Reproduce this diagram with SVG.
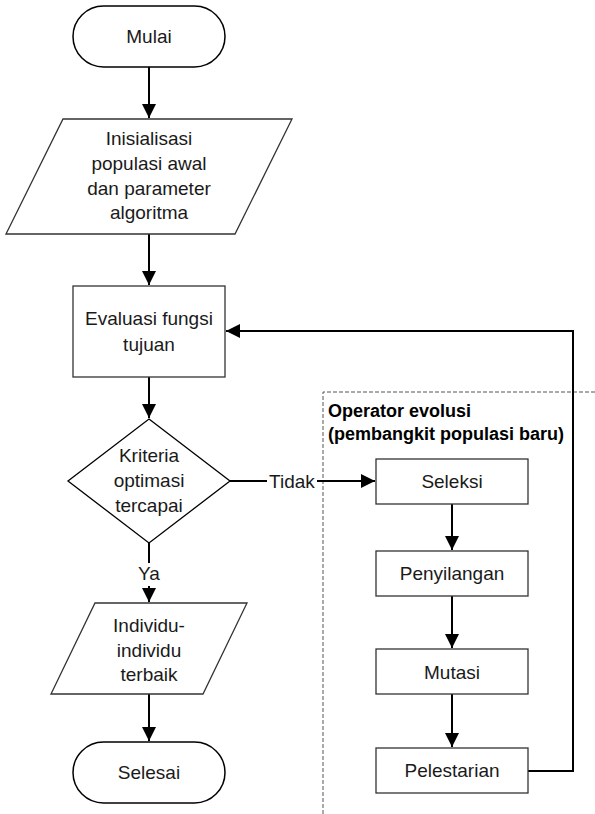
<svg xmlns="http://www.w3.org/2000/svg" width="595" height="814" viewBox="0 0 595 814">
<style>
.t{font-family:"Liberation Sans",Arial,sans-serif;font-size:19px;fill:#1a1a1a;text-anchor:middle}
.b{font-family:"Liberation Sans",Arial,sans-serif;font-size:18px;font-weight:bold;fill:#000}
.box{fill:#fff;stroke:#333;stroke-width:1.3}
.term{fill:#fff;stroke:#000;stroke-width:1.5}
.ln{fill:none;stroke:#000;stroke-width:2}
.dash{fill:none;stroke:#555;stroke-width:1;stroke-dasharray:4,2}
</style>
<defs>
<marker id="ah" viewBox="0 0 10 10" refX="10" refY="5" markerWidth="7" markerHeight="7" orient="auto" markerUnits="strokeWidth">
<path d="M0,0 L10,5 L0,10 z" fill="#000"/>
</marker>
</defs>
<rect width="595" height="814" fill="#fff"/>
<g id="group-operator">
<path class="dash" d="M323,814 V392 H595"/>
<text class="b" x="328" y="417">Operator evolusi</text>
<text class="b" x="328" y="440">(pembangkit populasi baru)</text>
</g>
<g id="connectors">
<path class="ln" d="M149,67 V118" marker-end="url(#ah)"/>
<path class="ln" d="M149,234 V285" marker-end="url(#ah)"/>
<path class="ln" d="M149,377 V418" marker-end="url(#ah)"/>
<path class="ln" d="M230,481 H267"/>
<path class="ln" d="M317,481 H375" marker-end="url(#ah)"/>
<text class="t" x="292" y="488">Tidak</text>
<path class="ln" d="M149,543 V563"/>
<text class="t" x="149" y="580">Ya</text>
<path class="ln" d="M149,586 V602" marker-end="url(#ah)"/>
<path class="ln" d="M149,694 V741" marker-end="url(#ah)"/>
<path class="ln" d="M452,504 V550" marker-end="url(#ah)"/>
<path class="ln" d="M452,596 V648" marker-end="url(#ah)"/>
<path class="ln" d="M452,694 V747" marker-end="url(#ah)"/>
<path class="ln" d="M528,771 H573 V331 H226" marker-end="url(#ah)"/>
</g>
<g id="mulai">
<rect class="term" x="73" y="6" width="152" height="61" rx="30.5"/>
<text class="t" x="149" y="43">Mulai</text>
</g>
<g id="inisialisasi">
<path class="box" d="M63,119 H292 L235,234 H6 Z"/>
<text class="t" x="149" y="145">Inisialisasi</text>
<text class="t" x="149" y="170">populasi awal</text>
<text class="t" x="149" y="195">dan parameter</text>
<text class="t" x="149" y="219">algoritma</text>
</g>
<g id="evaluasi">
<rect class="box" x="73" y="286" width="152" height="91"/>
<text class="t" x="149" y="325">Evaluasi fungsi</text>
<text class="t" x="149" y="351">tujuan</text>
</g>
<g id="kriteria">
<path class="box" style="stroke:#000" d="M149,419 L230,481 L149,543 L68,481 Z"/>
<text class="t" x="149" y="462">Kriteria</text>
<text class="t" x="149" y="487">optimasi</text>
<text class="t" x="149" y="512">tercapai</text>
</g>
<g id="individu">
<path class="box" d="M95,603 H247 L203,694 H51 Z"/>
<text class="t" x="149" y="632">Individu-</text>
<text class="t" x="149" y="657">individu</text>
<text class="t" x="149" y="681">terbaik</text>
</g>
<g id="selesai">
<rect class="term" x="73" y="742" width="152" height="61" rx="30.5"/>
<text class="t" x="149" y="779">Selesai</text>
</g>
<g id="seleksi">
<rect class="box" x="376" y="459" width="152" height="45"/>
<text class="t" x="452" y="488">Seleksi</text>
</g>
<g id="penyilangan">
<rect class="box" x="376" y="551" width="152" height="45"/>
<text class="t" x="452" y="580">Penyilangan</text>
</g>
<g id="mutasi">
<rect class="box" x="376" y="649" width="152" height="45"/>
<text class="t" x="452" y="679">Mutasi</text>
</g>
<g id="pelestarian">
<rect class="box" x="376" y="748" width="152" height="45"/>
<text class="t" x="452" y="777">Pelestarian</text>
</g>
</svg>
